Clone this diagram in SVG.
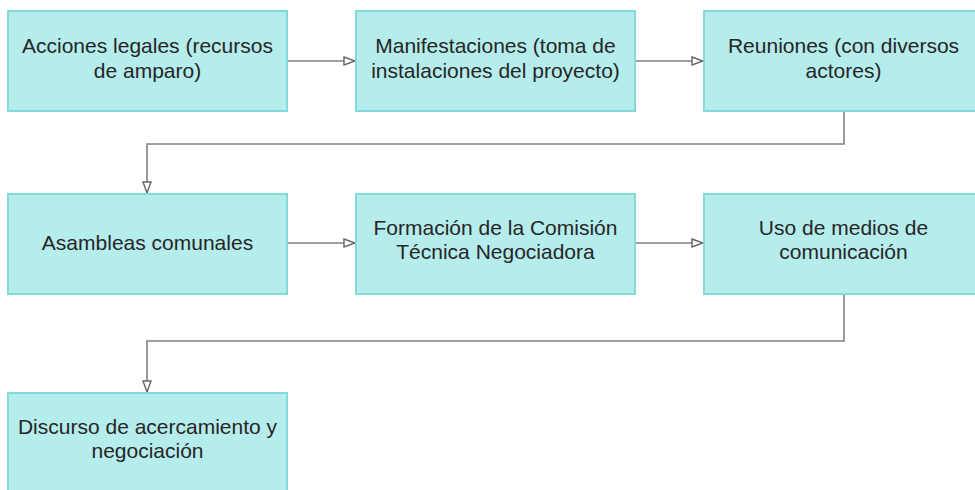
<svg xmlns="http://www.w3.org/2000/svg" width="975" height="490" viewBox="0 0 975 490">
<style>
.box{fill:#b5ecec;stroke:#84d9d9;stroke-width:2}
.t{font-family:"Liberation Sans",Arial,sans-serif;font-size:21px;fill:#262626;text-anchor:middle}
.c{fill:none;stroke:#808080;stroke-width:1.6}
</style>
<defs>
<marker id="ah" markerWidth="14" markerHeight="12" refX="12" refY="5" orient="auto" markerUnits="userSpaceOnUse">
<path d="M1,1 L12,5 L1,9 Z" fill="#fff" stroke="#666" stroke-width="1.4"/>
</marker>
</defs>
<rect width="975" height="490" fill="#fff"/>
<g id="connectors">
<path class="c" d="M287,61 H355" marker-end="url(#ah)"/>
<path class="c" d="M635,61 H703" marker-end="url(#ah)"/>
<path class="c" d="M844,111 V144 H147 V193" marker-end="url(#ah)"/>
<path class="c" d="M287,243 H355" marker-end="url(#ah)"/>
<path class="c" d="M635,243 H703" marker-end="url(#ah)"/>
<path class="c" d="M844,294 V341 H147 V392" marker-end="url(#ah)"/>
</g>
<g id="n1"><rect class="box" x="8" y="11" width="279" height="100"/><text class="t" x="147.5" y="53">Acciones legales (recursos</text><text class="t" x="147.5" y="78">de amparo)</text></g>
<g id="n2"><rect class="box" x="356" y="11" width="279" height="100"/><text class="t" x="495.5" y="53">Manifestaciones (toma de</text><text class="t" x="495.5" y="78">instalaciones del proyecto)</text></g>
<g id="n3"><rect class="box" x="704" y="11" width="279" height="100"/><text class="t" x="843.5" y="53">Reuniones (con diversos</text><text class="t" x="843.5" y="78">actores)</text></g>
<g id="n4"><rect class="box" x="8" y="194" width="279" height="100"/><text class="t" x="147.5" y="250">Asambleas comunales</text></g>
<g id="n5"><rect class="box" x="356" y="194" width="279" height="100"/><text class="t" x="495.5" y="235">Formación de la Comisión</text><text class="t" x="495.5" y="259">Técnica Negociadora</text></g>
<g id="n6"><rect class="box" x="704" y="194" width="279" height="100"/><text class="t" x="843.5" y="235">Uso de medios de</text><text class="t" x="843.5" y="259">comunicación</text></g>
<g id="n7"><rect class="box" x="8" y="393" width="279" height="110"/><text class="t" x="147.5" y="434">Discurso de acercamiento y</text><text class="t" x="147.5" y="458">negociación</text></g>
</svg>
